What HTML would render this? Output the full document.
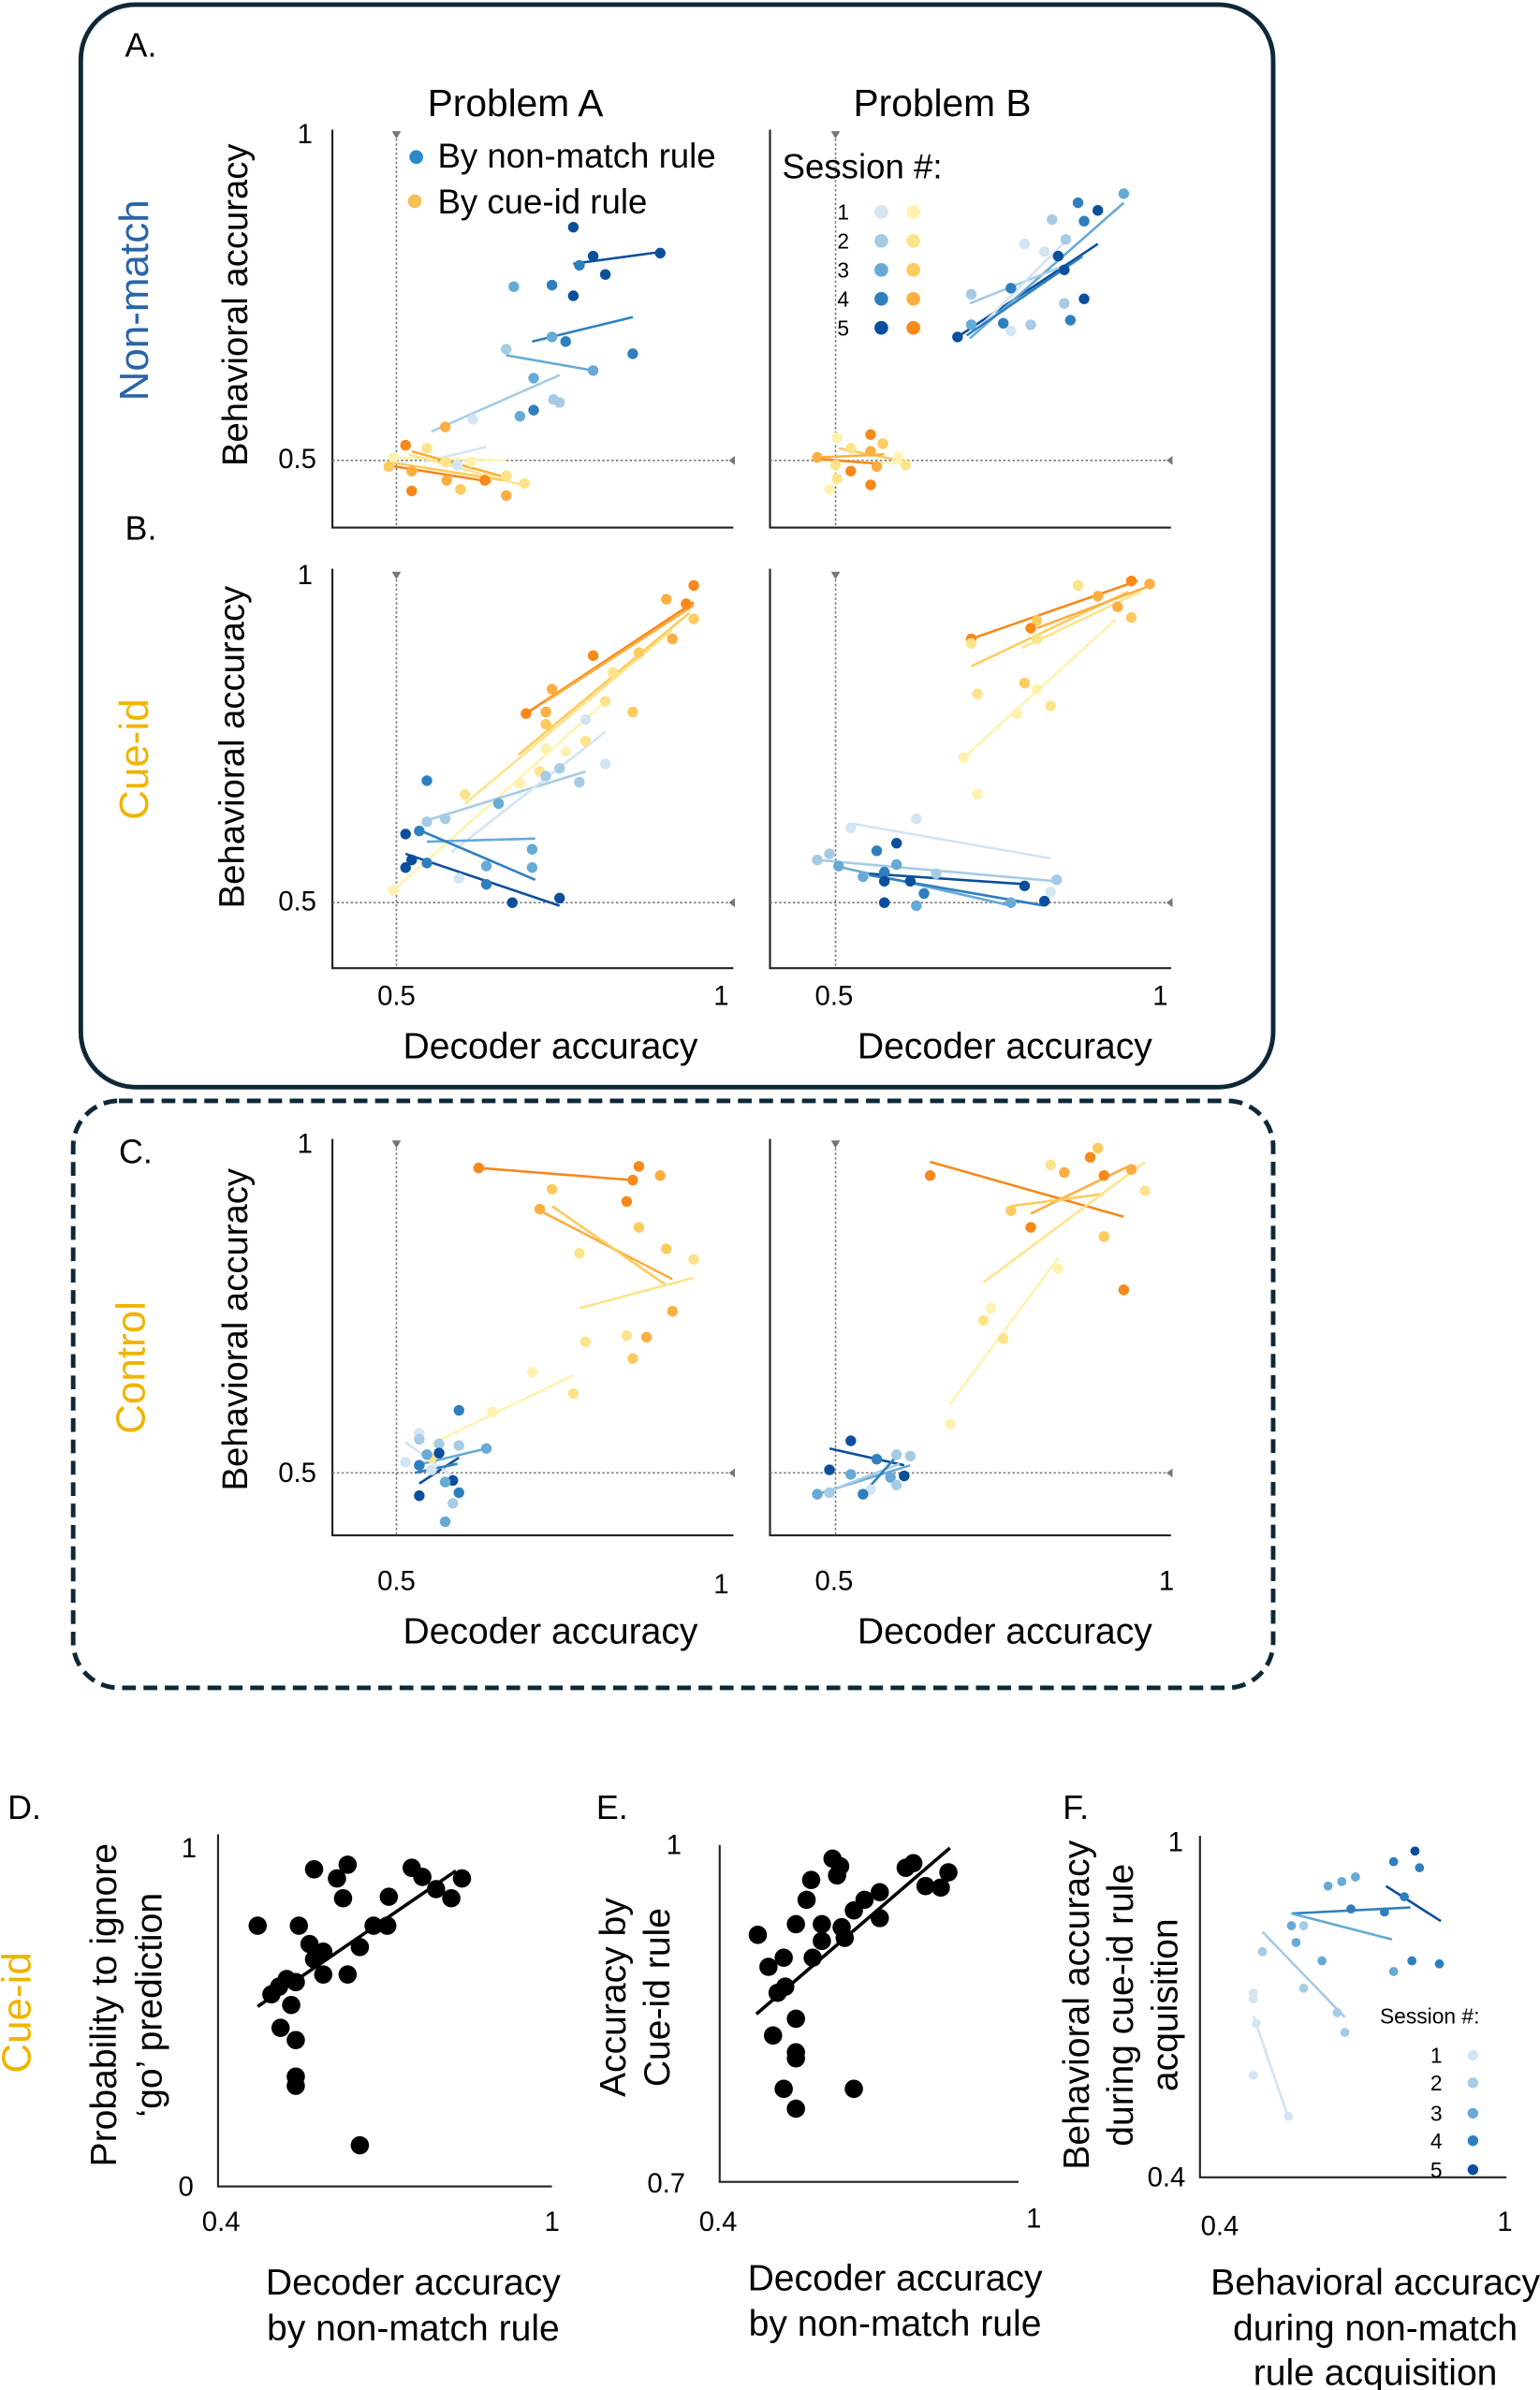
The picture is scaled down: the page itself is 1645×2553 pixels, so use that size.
<!DOCTYPE html>
<html><head><meta charset="utf-8"><style>
html,body{margin:0;padding:0;background:#fff}
svg{display:block}
text{font-family:"Liberation Sans",sans-serif;fill:#000}
.b1{fill:#d3e4f3}.b2{fill:#a6cbe5}.b3{fill:#66aad5}.b4{fill:#2f7fbf}.b5{fill:#0b4f9c}
.o1{fill:#fff2b0}.o2{fill:#fde48a}.o3{fill:#fdcb5e}.o4{fill:#fdae40}.o5{fill:#f7881a}
.lb1{stroke:#d3e4f3}.lb2{stroke:#a6cbe5}.lb3{stroke:#66aad5}.lb4{stroke:#2f7fbf}.lb5{stroke:#0b4f9c}
.lo1{stroke:#fff2b0}.lo2{stroke:#fde48a}.lo3{stroke:#fdcb5e}.lo4{stroke:#fdae40}.lo5{stroke:#f7881a}
line.r{stroke-width:1.6}
.ax{stroke:#222;stroke-width:1.3;fill:none}
.dot{stroke:#777;stroke-width:1;stroke-dasharray:1.5 1.5}
.tri{fill:#777}
</style></head><body>
<svg width="1645" height="2553" viewBox="0 0 1010 1567.5" xmlns="http://www.w3.org/2000/svg">
<rect x="53" y="3" width="782" height="710" rx="36" fill="none" stroke="#0e2838" stroke-width="3"/>
<rect x="48" y="722" width="787" height="385" rx="30" fill="none" stroke="#0e2838" stroke-width="3" stroke-dasharray="9 5"/>

<g font-size="22">
<text x="82" y="37">A.</text><text x="82" y="354">B.</text><text x="78" y="763">C.</text>
<text x="5" y="1193">D.</text><text x="391" y="1193">E.</text><text x="697" y="1193">F.</text>
</g>
<text x="338" y="76" font-size="25" text-anchor="middle">Problem A</text>
<text x="618" y="76" font-size="25" text-anchor="middle">Problem B</text>

<text transform="translate(97,197) rotate(-90)" font-size="27" text-anchor="middle" style="fill:#2a64a8">Non-match</text>
<text transform="translate(97,498) rotate(-90)" font-size="27" text-anchor="middle" style="fill:#f0b400">Cue-id</text>
<text transform="translate(95,897) rotate(-90)" font-size="27" text-anchor="middle" style="fill:#f0b400">Control</text>
<text transform="translate(20,1320) rotate(-90)" font-size="27" text-anchor="middle" style="fill:#f0b400">Cue-id</text>
<g font-size="23.5" text-anchor="middle">
<text transform="translate(162,200) rotate(-90)">Behavioral accuracy</text>
<text transform="translate(160,490) rotate(-90)">Behavioral accuracy</text>
<text transform="translate(162,872) rotate(-90)">Behavioral accuracy</text>
</g>

<g>
<path class="ax" d="M218,85V346H481M505,85V346H768"/>
<path class="ax" d="M218,373V635H481M505,373V635H768"/>
<path class="ax" d="M218,747V1007H481M505,747V1007H768"/>
<path class="dot" d="M218,302H481M505,302H768M260,88V346M548,88V346"/>
<path class="dot" d="M218,592H481M505,592H768M260,377V635M548,377V635"/>
<path class="dot" d="M218,966H481M505,966H768M260,750V1007M548,750V1007"/>
<g class="tri">
<path d="M257,86h6l-3,5zM545,86h6l-3,5zM257,375h6l-3,5zM545,375h6l-3,5zM257,748h6l-3,5zM545,748h6l-3,5z"/>
<path d="M482,299v6l-4,-3zM769,299v6l-4,-3zM482,589v6l-4,-3zM769,589v6l-4,-3zM482,963v6l-4,-3zM769,963v6l-4,-3z"/>
</g>
</g>
<g font-size="18" text-anchor="middle">
<text x="200" y="94">1</text><text x="195" y="307">0.5</text>
<text x="200" y="383">1</text><text x="195" y="597">0.5</text>
<text x="200" y="756">1</text><text x="195" y="972">0.5</text>
<text x="260" y="659">0.5</text><text x="473" y="659">1</text>
<text x="547" y="659">0.5</text><text x="761" y="659">1</text>
<text x="260" y="1043">0.5</text><text x="473" y="1045">1</text>
<text x="547" y="1043">0.5</text><text x="765" y="1043">1</text>
</g>
<g font-size="24" text-anchor="middle">
<text x="361" y="694">Decoder accuracy</text><text x="659" y="694">Decoder accuracy</text>
<text x="361" y="1078">Decoder accuracy</text><text x="659" y="1078">Decoder accuracy</text>
</g>

<circle cx="273" cy="103" r="4.5" fill="#2b8acb"/><text x="287" y="110" font-size="22.5">By non-match rule</text>
<circle cx="272" cy="132" r="4.5" fill="#f5c155"/><text x="287" y="140" font-size="22.5">By cue-id rule</text>
<text x="513" y="117" font-size="22.5">Session #:</text>
<g font-size="14" text-anchor="middle">
<text x="553" y="144">1</text><text x="553" y="163">2</text><text x="553" y="182">3</text><text x="553" y="201">4</text><text x="553" y="220">5</text>
</g>
<g>
<circle class="b1" cx="578" cy="139" r="4.5"/><circle class="o1" cx="599" cy="139" r="4.5"/>
<circle class="b2" cx="578" cy="158" r="4.5"/><circle class="o2" cx="599" cy="158" r="4.5"/>
<circle class="b3" cx="578" cy="177" r="4.5"/><circle class="o3" cx="599" cy="177" r="4.5"/>
<circle class="b4" cx="578" cy="196" r="4.5"/><circle class="o4" cx="599" cy="196" r="4.5"/>
<circle class="b5" cx="578" cy="215" r="4.5"/><circle class="o5" cx="599" cy="215" r="4.5"/>
</g>

<g>
<line class="r lb5" x1="376" y1="173" x2="435" y2="165"/>
<line class="r lb4" x1="349" y1="224" x2="415" y2="208"/>
<line class="r lb3" x1="332" y1="233" x2="389" y2="243"/>
<line class="r lb2" x1="283" y1="283" x2="367" y2="246"/>
<line class="r lb1" x1="278" y1="303" x2="319" y2="293"/>
<line class="r lo1" x1="258" y1="300" x2="332" y2="302"/>
<line class="r lo2" x1="268" y1="298" x2="342" y2="318"/>
<line class="r lo3" x1="255" y1="303" x2="330" y2="315"/>
<line class="r lo4" x1="270" y1="296" x2="335" y2="314"/>
<line class="r lo5" x1="253" y1="305" x2="322" y2="316"/>
<circle class="b5" cx="376" cy="149" r="3.5"/><circle class="b4" cx="380" cy="174" r="3.5"/><circle class="b5" cx="389" cy="168" r="3.5"/><circle class="b5" cx="397" cy="180" r="3.5"/><circle class="b5" cx="433" cy="166" r="3.5"/>
<circle class="b3" cx="337" cy="188" r="3.5"/><circle class="b4" cx="362" cy="187" r="3.5"/><circle class="b5" cx="376" cy="194" r="3.5"/><circle class="b2" cx="332" cy="229" r="3.5"/><circle class="b3" cx="362" cy="221" r="3.5"/><circle class="b4" cx="371" cy="224" r="3.5"/><circle class="b3" cx="389" cy="243" r="3.5"/><circle class="b4" cx="415" cy="232" r="3.5"/>
<circle class="b3" cx="350" cy="248" r="3.5"/><circle class="b3" cx="341" cy="273" r="3.5"/><circle class="b4" cx="350" cy="269" r="3.5"/><circle class="b2" cx="363" cy="262" r="3.5"/><circle class="b2" cx="367" cy="264" r="3.5"/><circle class="b1" cx="310" cy="275" r="3.5"/><circle class="o4" cx="292" cy="280" r="3.5"/>
<circle class="o5" cx="266" cy="292" r="3.5"/><circle class="o2" cx="280" cy="294" r="3.5"/><circle class="o1" cx="258" cy="300" r="3.5"/><circle class="o3" cx="255" cy="306" r="3.5"/><circle class="o4" cx="270" cy="309" r="3.5"/><circle class="o2" cx="292" cy="303" r="3.5"/><circle class="b1" cx="300" cy="305" r="3.5"/><circle class="o1" cx="309" cy="303" r="3.5"/><circle class="o2" cx="332" cy="312" r="3.5"/><circle class="o5" cx="318" cy="315" r="3.5"/><circle class="o4" cx="293" cy="315" r="3.5"/><circle class="o5" cx="270" cy="322" r="3.5"/><circle class="o3" cx="302" cy="321" r="3.5"/><circle class="o4" cx="332" cy="325" r="3.5"/><circle class="o2" cx="344" cy="317" r="3.5"/>
</g>
<g>
<line class="r lb5" x1="628" y1="221" x2="720" y2="160"/>
<line class="r lb3" x1="636" y1="222" x2="737" y2="133"/>
<line class="r lb2" x1="636" y1="199" x2="696" y2="175"/>
<line class="r lb1" x1="641" y1="216" x2="702" y2="155"/>
<line class="r lb4" x1="634" y1="220" x2="710" y2="168"/>
<line class="r lo1" x1="545" y1="302" x2="592" y2="304"/>
<line class="r lo3" x1="550" y1="294" x2="590" y2="302"/>
<line class="r lo4" x1="538" y1="300" x2="580" y2="298"/>
<line class="r lo5" x1="536" y1="301" x2="575" y2="304"/>
<circle class="b3" cx="737" cy="127" r="3.5"/><circle class="b4" cx="707" cy="133" r="3.5"/><circle class="b5" cx="720" cy="138" r="3.5"/><circle class="b4" cx="711" cy="145" r="3.5"/><circle class="b2" cx="690" cy="144" r="3.5"/><circle class="b2" cx="699" cy="157" r="3.5"/><circle class="b1" cx="672" cy="160" r="3.5"/><circle class="b1" cx="685" cy="165" r="3.5"/><circle class="b5" cx="694" cy="168" r="3.5"/><circle class="b5" cx="698" cy="177" r="3.5"/><circle class="b4" cx="663" cy="189" r="3.5"/><circle class="b2" cx="637" cy="193" r="3.5"/><circle class="b2" cx="698" cy="199" r="3.5"/><circle class="b5" cx="711" cy="196" r="3.5"/><circle class="b4" cx="702" cy="210" r="3.5"/><circle class="b4" cx="658" cy="212" r="3.5"/><circle class="b3" cx="637" cy="213" r="3.5"/><circle class="b1" cx="663" cy="217" r="3.5"/><circle class="b2" cx="676" cy="213" r="3.5"/><circle class="b5" cx="628" cy="221" r="3.5"/>
<circle class="o5" cx="571" cy="285" r="3.5"/><circle class="o3" cx="579" cy="291" r="3.5"/><circle class="o1" cx="549" cy="287" r="3.5"/><circle class="o2" cx="558" cy="294" r="3.5"/><circle class="o4" cx="571" cy="296" r="3.5"/><circle class="o4" cx="536" cy="300" r="3.5"/><circle class="o2" cx="548" cy="305" r="3.5"/><circle class="o5" cx="558" cy="309" r="3.5"/><circle class="o4" cx="575" cy="306" r="3.5"/><circle class="o1" cx="589" cy="300" r="3.5"/><circle class="o2" cx="594" cy="305" r="3.5"/><circle class="o2" cx="549" cy="314" r="3.5"/><circle class="o1" cx="544" cy="321" r="3.5"/><circle class="o5" cx="571" cy="318" r="3.5"/>
</g>
<g>
<line class="r lo5" x1="345" y1="468" x2="455" y2="395"/>
<line class="r lo4" x1="358" y1="460" x2="455" y2="397"/>
<line class="r lo3" x1="340" y1="495" x2="452" y2="402"/>
<line class="r lo2" x1="305" y1="527" x2="441" y2="413"/>
<line class="r lo1" x1="258" y1="584" x2="395" y2="462"/>
<line class="r lb2" x1="280" y1="538" x2="384" y2="506"/>
<line class="r lb1" x1="296" y1="559" x2="397" y2="480"/>
<line class="r lb3" x1="280" y1="552" x2="351" y2="550"/>
<line class="r lb4" x1="274" y1="544" x2="351" y2="577"/>
<line class="r lb5" x1="266" y1="560" x2="367" y2="594"/>
<circle class="o5" cx="455" cy="384" r="3.5"/><circle class="o4" cx="437" cy="393" r="3.5"/><circle class="o5" cx="450" cy="396" r="3.5"/><circle class="o3" cx="455" cy="406" r="3.5"/><circle class="o4" cx="441" cy="419" r="3.5"/><circle class="o5" cx="389" cy="430" r="3.5"/><circle class="o3" cx="419" cy="428" r="3.5"/><circle class="o2" cx="402" cy="441" r="3.5"/><circle class="o4" cx="362" cy="452" r="3.5"/><circle class="o2" cx="397" cy="460" r="3.5"/><circle class="o4" cx="358" cy="467" r="3.5"/><circle class="o5" cx="345" cy="468" r="3.5"/><circle class="o3" cx="415" cy="467" r="3.5"/><circle class="o3" cx="358" cy="475" r="3.5"/><circle class="b1" cx="384" cy="472" r="3.5"/><circle class="o2" cx="384" cy="486" r="3.5"/><circle class="o1" cx="358" cy="491" r="3.5"/><circle class="o1" cx="371" cy="493" r="3.5"/><circle class="o1" cx="341" cy="514" r="3.5"/><circle class="o2" cx="305" cy="521" r="3.5"/><circle class="o1" cx="258" cy="584" r="3.5"/><circle class="o2" cx="354" cy="506" r="3.5"/>
<circle class="b4" cx="280" cy="512" r="3.5"/><circle class="b2" cx="292" cy="537" r="3.5"/><circle class="b2" cx="280" cy="539" r="3.5"/><circle class="b3" cx="327" cy="527" r="3.5"/><circle class="b2" cx="358" cy="509" r="3.5"/><circle class="b2" cx="367" cy="504" r="3.5"/><circle class="b2" cx="380" cy="513" r="3.5"/><circle class="b1" cx="397" cy="501" r="3.5"/><circle class="b5" cx="266" cy="547" r="3.5"/><circle class="b4" cx="275" cy="545" r="3.5"/><circle class="b3" cx="349" cy="557" r="3.5"/><circle class="b3" cx="349" cy="569" r="3.5"/><circle class="b5" cx="266" cy="569" r="3.5"/><circle class="b5" cx="270" cy="564" r="3.5"/><circle class="b4" cx="280" cy="566" r="3.5"/><circle class="b3" cx="319" cy="568" r="3.5"/><circle class="b1" cx="301" cy="576" r="3.5"/><circle class="b4" cx="319" cy="580" r="3.5"/><circle class="b5" cx="336" cy="592" r="3.5"/><circle class="b5" cx="367" cy="589" r="3.5"/>
</g>
<g>
<line class="r lo5" x1="637" y1="419" x2="746" y2="381"/>
<line class="r lo3" x1="637" y1="437" x2="740" y2="388"/>
<line class="r lo4" x1="680" y1="412" x2="752" y2="385"/>
<line class="r lo2" x1="670" y1="425" x2="748" y2="388"/>
<line class="r lo1" x1="632" y1="497" x2="732" y2="406"/>
<line class="r lb1" x1="558" y1="540" x2="689" y2="563"/>
<line class="r lb2" x1="536" y1="564" x2="693" y2="578"/>
<line class="r lb3" x1="548" y1="568" x2="663" y2="594"/>
<line class="r lb5" x1="570" y1="573" x2="674" y2="580"/>
<line class="r lb4" x1="570" y1="574" x2="685" y2="594"/>
<circle class="o2" cx="707" cy="384" r="3.5"/><circle class="o5" cx="742" cy="381" r="3.5"/><circle class="o4" cx="754" cy="383" r="3.5"/><circle class="o4" cx="720" cy="391" r="3.5"/><circle class="o4" cx="733" cy="398" r="3.5"/><circle class="o3" cx="742" cy="405" r="3.5"/><circle class="o5" cx="637" cy="419" r="3.5"/><circle class="o3" cx="680" cy="407" r="3.5"/><circle class="o5" cx="676" cy="412" r="3.5"/><circle class="o2" cx="680" cy="419" r="3.5"/><circle class="o2" cx="637" cy="422" r="3.5"/><circle class="o3" cx="672" cy="448" r="3.5"/><circle class="o2" cx="641" cy="455" r="3.5"/><circle class="o1" cx="680" cy="452" r="3.5"/><circle class="o2" cx="689" cy="463" r="3.5"/><circle class="o1" cx="667" cy="468" r="3.5"/><circle class="o1" cx="632" cy="497" r="3.5"/><circle class="o1" cx="641" cy="521" r="3.5"/>
<circle class="b1" cx="601" cy="537" r="3.5"/><circle class="b1" cx="558" cy="543" r="3.5"/><circle class="b2" cx="544" cy="560" r="3.5"/><circle class="b2" cx="536" cy="564" r="3.5"/><circle class="b4" cx="575" cy="558" r="3.5"/><circle class="b5" cx="588" cy="553" r="3.5"/><circle class="b3" cx="550" cy="568" r="3.5"/><circle class="b3" cx="566" cy="575" r="3.5"/><circle class="b4" cx="580" cy="572" r="3.5"/><circle class="b3" cx="588" cy="567" r="3.5"/><circle class="b2" cx="614" cy="573" r="3.5"/><circle class="b5" cx="580" cy="578" r="3.5"/><circle class="b5" cx="597" cy="578" r="3.5"/><circle class="b4" cx="606" cy="586" r="3.5"/><circle class="b5" cx="580" cy="592" r="3.5"/><circle class="b3" cx="601" cy="594" r="3.5"/><circle class="b3" cx="663" cy="592" r="3.5"/><circle class="b5" cx="685" cy="591" r="3.5"/><circle class="b2" cx="693" cy="577" r="3.5"/><circle class="b5" cx="672" cy="581" r="3.5"/><circle class="b1" cx="689" cy="585" r="3.5"/>
</g>
<g>
<line class="r lo5" x1="314" y1="766" x2="415" y2="774"/>
<line class="r lo4" x1="354" y1="794" x2="441" y2="839"/>
<line class="r lo3" x1="362" y1="791" x2="437" y2="843"/>
<line class="r lo2" x1="380" y1="858" x2="455" y2="838"/>
<line class="r lo1" x1="283" y1="947" x2="376" y2="902"/>
<line class="r lb5" x1="275" y1="973" x2="301" y2="956"/>
<line class="r lb3" x1="273" y1="961" x2="319" y2="950"/>
<line class="r lb1" x1="266" y1="946" x2="297" y2="968"/>
<line class="r lb4" x1="272" y1="966" x2="300" y2="960"/>
<circle class="o5" cx="314" cy="766" r="3.5"/><circle class="o5" cx="415" cy="774" r="3.5"/><circle class="o5" cx="419" cy="765" r="3.5"/><circle class="o4" cx="433" cy="771" r="3.5"/><circle class="o3" cx="362" cy="780" r="3.5"/><circle class="o5" cx="411" cy="788" r="3.5"/><circle class="o4" cx="354" cy="793" r="3.5"/><circle class="o3" cx="419" cy="805" r="3.5"/><circle class="o3" cx="437" cy="819" r="3.5"/><circle class="o2" cx="455" cy="826" r="3.5"/><circle class="o2" cx="380" cy="822" r="3.5"/><circle class="o4" cx="441" cy="860" r="3.5"/><circle class="o2" cx="384" cy="880" r="3.5"/><circle class="o2" cx="411" cy="876" r="3.5"/><circle class="o4" cx="424" cy="877" r="3.5"/><circle class="o3" cx="415" cy="891" r="3.5"/><circle class="o1" cx="349" cy="900" r="3.5"/><circle class="o2" cx="376" cy="914" r="3.5"/><circle class="o1" cx="323" cy="926" r="3.5"/><circle class="o2" cx="283" cy="956" r="3.5"/>
<circle class="b4" cx="301" cy="925" r="3.5"/><circle class="b1" cx="275" cy="940" r="3.5"/><circle class="b2" cx="275" cy="944" r="3.5"/><circle class="b2" cx="288" cy="947" r="3.5"/><circle class="b2" cx="301" cy="948" r="3.5"/><circle class="b3" cx="319" cy="950" r="3.5"/><circle class="b3" cx="280" cy="954" r="3.5"/><circle class="b5" cx="288" cy="953" r="3.5"/><circle class="b1" cx="266" cy="959" r="3.5"/><circle class="b4" cx="275" cy="961" r="3.5"/><circle class="b5" cx="297" cy="971" r="3.5"/><circle class="b4" cx="301" cy="979" r="3.5"/><circle class="b5" cx="275" cy="981" r="3.5"/><circle class="b2" cx="297" cy="986" r="3.5"/><circle class="b3" cx="292" cy="998" r="3.5"/><circle class="b3" cx="292" cy="972" r="3.5"/><circle class="b1" cx="283" cy="964" r="3.5"/>
</g>
<g>
<line class="r lo5" x1="610" y1="762" x2="737" y2="798"/>
<line class="r lo4" x1="676" y1="796" x2="742" y2="764"/>
<line class="r lo3" x1="663" y1="791" x2="724" y2="783"/>
<line class="r lo2" x1="645" y1="841" x2="751" y2="762"/>
<line class="r lo1" x1="623" y1="921" x2="694" y2="825"/>
<line class="r lb5" x1="544" y1="950" x2="593" y2="961"/>
<line class="r lb3" x1="536" y1="980" x2="597" y2="961"/>
<line class="r lb2" x1="544" y1="978" x2="590" y2="960"/>
<line class="r lb4" x1="566" y1="980" x2="588" y2="955"/>
<circle class="o3" cx="720" cy="753" r="3.5"/><circle class="o5" cx="715" cy="759" r="3.5"/><circle class="o2" cx="689" cy="764" r="3.5"/><circle class="o4" cx="698" cy="769" r="3.5"/><circle class="o5" cx="610" cy="771" r="3.5"/><circle class="o5" cx="724" cy="771" r="3.5"/><circle class="o4" cx="742" cy="767" r="3.5"/><circle class="o3" cx="663" cy="794" r="3.5"/><circle class="o5" cx="676" cy="805" r="3.5"/><circle class="o3" cx="724" cy="811" r="3.5"/><circle class="o2" cx="751" cy="781" r="3.5"/><circle class="o1" cx="694" cy="832" r="3.5"/><circle class="o5" cx="737" cy="846" r="3.5"/><circle class="o1" cx="650" cy="858" r="3.5"/><circle class="o2" cx="645" cy="866" r="3.5"/><circle class="o2" cx="658" cy="878" r="3.5"/><circle class="o1" cx="623" cy="934" r="3.5"/>
<circle class="b5" cx="558" cy="945" r="3.5"/><circle class="b5" cx="544" cy="964" r="3.5"/><circle class="b4" cx="575" cy="957" r="3.5"/><circle class="b2" cx="588" cy="954" r="3.5"/><circle class="b2" cx="597" cy="955" r="3.5"/><circle class="b3" cx="558" cy="967" r="3.5"/><circle class="b3" cx="584" cy="969" r="3.5"/><circle class="b5" cx="593" cy="968" r="3.5"/><circle class="b3" cx="536" cy="980" r="3.5"/><circle class="b1" cx="571" cy="977" r="3.5"/><circle class="b2" cx="588" cy="974" r="3.5"/><circle class="b4" cx="566" cy="980" r="3.5"/><circle class="b2" cx="544" cy="979" r="3.5"/>
</g>

<path class="ax" d="M143,1203V1434H362" stroke-width="1.8"/>
<g font-size="18" text-anchor="middle">
<text x="124" y="1218">1</text><text x="122" y="1440">0</text><text x="145" y="1463">0.4</text><text x="362" y="1463">1</text>
<text x="442" y="1216">1</text><text x="437" y="1438">0.7</text><text x="471" y="1463">0.4</text><text x="678" y="1461">1</text>
<text x="771" y="1214">1</text><text x="765" y="1434">0.4</text><text x="800" y="1466">0.4</text><text x="987" y="1463">1</text>
</g>
<g font-size="24" text-anchor="middle">
<text transform="translate(76,1315) rotate(-90)">Probability to ignore</text>
<text transform="translate(106,1315) rotate(-90)">‘go’ prediction</text>
<text x="271" y="1505">Decoder accuracy</text><text x="271" y="1535">by non-match rule</text>
<text transform="translate(410,1310) rotate(-90)">Accuracy by</text>
<text transform="translate(439,1310) rotate(-90)">Cue-id rule</text>
<text x="587" y="1502">Decoder accuracy</text><text x="587" y="1532">by non-match rule</text>
<text transform="translate(714,1315) rotate(-90)">Behavioral accuracy</text>
<text transform="translate(743,1315) rotate(-90)">during cue-id rule</text>
<text transform="translate(772,1315) rotate(-90)">acquisition</text>
<text x="902" y="1505">Behavioral accuracy</text><text x="902" y="1535">during non-match</text><text x="902" y="1564">rule acquisition</text>
</g>
<g fill="#000">
<line x1="169" y1="1316" x2="299" y2="1227" stroke="#000" stroke-width="2.2"/>
<circle cx="169" cy="1263" r="6"/><circle cx="196" cy="1263" r="6"/><circle cx="206" cy="1226" r="6"/><circle cx="228" cy="1223" r="6"/><circle cx="221" cy="1232" r="6"/><circle cx="225" cy="1245" r="6"/><circle cx="270" cy="1225" r="6"/><circle cx="277" cy="1231" r="6"/><circle cx="286" cy="1239" r="6"/><circle cx="296" cy="1245" r="6"/><circle cx="303" cy="1232" r="6"/><circle cx="255" cy="1244" r="6"/><circle cx="245" cy="1263" r="6"/><circle cx="254" cy="1263" r="6"/><circle cx="203" cy="1275" r="6"/><circle cx="212" cy="1280" r="6"/><circle cx="236" cy="1277" r="6"/><circle cx="206" cy="1285" r="6"/><circle cx="228" cy="1295" r="6"/><circle cx="212" cy="1295" r="6"/><circle cx="188" cy="1298" r="6"/><circle cx="194" cy="1300" r="6"/><circle cx="178" cy="1308" r="6"/><circle cx="183" cy="1303" r="6"/><circle cx="191" cy="1315" r="6"/><circle cx="184" cy="1330" r="6"/><circle cx="194" cy="1338" r="6"/><circle cx="194" cy="1362" r="6"/><circle cx="194" cy="1368" r="6"/><circle cx="236" cy="1407" r="6"/>
</g>
<path class="ax" d="M472,1210V1431H668" stroke-width="1.8"/>
<g fill="#000">
<line x1="496" y1="1321" x2="623" y2="1212" stroke="#000" stroke-width="2.2"/>
<circle cx="497" cy="1269" r="6"/><circle cx="522" cy="1262" r="6"/><circle cx="532" cy="1233" r="6"/><circle cx="546" cy="1219" r="6"/><circle cx="551" cy="1224" r="6"/><circle cx="549" cy="1230" r="6"/><circle cx="539" cy="1262" r="6"/><circle cx="539" cy="1273" r="6"/><circle cx="552" cy="1264" r="6"/><circle cx="554" cy="1271" r="6"/><circle cx="533" cy="1284" r="6"/><circle cx="514" cy="1284" r="6"/><circle cx="504" cy="1290" r="6"/><circle cx="515" cy="1303" r="6"/><circle cx="510" cy="1307" r="6"/><circle cx="529" cy="1246" r="6"/><circle cx="560" cy="1253" r="6"/><circle cx="567" cy="1246" r="6"/><circle cx="577" cy="1241" r="6"/><circle cx="577" cy="1258" r="6"/><circle cx="594" cy="1225" r="6"/><circle cx="599" cy="1222" r="6"/><circle cx="607" cy="1237" r="6"/><circle cx="617" cy="1238" r="6"/><circle cx="622" cy="1228" r="6"/><circle cx="522" cy="1324" r="6"/><circle cx="507" cy="1335" r="6"/><circle cx="522" cy="1346" r="6"/><circle cx="522" cy="1350" r="6"/><circle cx="514" cy="1370" r="6"/><circle cx="522" cy="1383" r="6"/><circle cx="560" cy="1370" r="6"/>
</g>
<path class="ax" d="M787,1204V1428H988" stroke-width="1.8"/>
<g>
<line class="r lb4" x1="847" y1="1255" x2="925" y2="1251"/>
<line class="r lb3" x1="847" y1="1255" x2="913" y2="1272"/>
<line class="r lb5" x1="909" y1="1237" x2="945" y2="1260"/>
<line class="r lb2" x1="828" y1="1267" x2="882" y2="1323"/>
<line class="r lb1" x1="822" y1="1322" x2="845" y2="1389"/>
<circle class="b5" cx="928" cy="1214" r="3"/><circle class="b4" cx="931" cy="1225" r="3"/><circle class="b4" cx="914" cy="1221" r="3"/><circle class="b3" cx="889" cy="1231" r="3"/><circle class="b3" cx="880" cy="1234" r="3"/><circle class="b3" cx="871" cy="1237" r="3"/><circle class="b3" cx="847" cy="1263" r="3"/><circle class="b2" cx="855" cy="1263" r="3"/><circle class="b3" cx="850" cy="1274" r="3"/><circle class="b2" cx="828" cy="1280" r="3"/><circle class="b3" cx="867" cy="1286" r="3"/><circle class="b4" cx="886" cy="1252" r="3"/><circle class="b4" cx="908" cy="1254" r="3"/><circle class="b4" cx="921" cy="1244" r="3"/><circle class="b3" cx="914" cy="1293" r="3"/><circle class="b4" cx="926" cy="1286" r="3"/><circle class="b4" cx="944" cy="1288" r="3"/><circle class="b1" cx="822" cy="1307" r="3"/><circle class="b1" cx="822" cy="1311" r="3"/><circle class="b2" cx="855" cy="1304" r="3"/><circle class="b2" cx="877" cy="1320" r="3"/><circle class="b2" cx="882" cy="1333" r="3"/><circle class="b1" cx="824" cy="1327" r="3"/><circle class="b1" cx="822" cy="1361" r="3"/><circle class="b1" cx="845" cy="1388" r="3"/>
</g>
<text x="905" y="1327" font-size="14">Session #:</text>
<g font-size="14" text-anchor="middle">
<text x="942" y="1353">1</text><text x="942" y="1371">2</text><text x="942" y="1391">3</text><text x="942" y="1409">4</text><text x="942" y="1428">5</text>
</g>
<circle class="b1" cx="966" cy="1348" r="3.5"/><circle class="b2" cx="966" cy="1366" r="3.5"/><circle class="b3" cx="966" cy="1386" r="3.5"/><circle class="b4" cx="966" cy="1404" r="3.5"/><circle class="b5" cx="966" cy="1423" r="3.5"/>
</svg>
</body></html>
